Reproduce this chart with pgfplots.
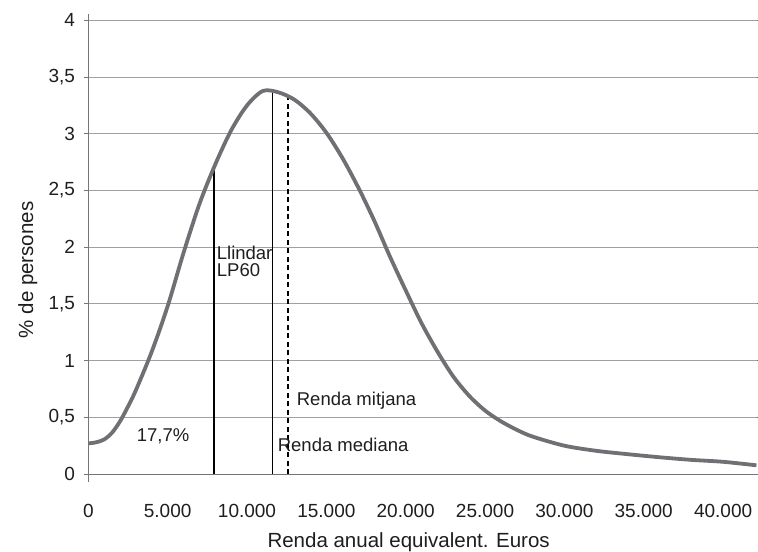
\documentclass[border=0pt]{standalone}
\usepackage{fontspec}
\setmainfont{Liberation Sans}
\usepackage{pgfplots}
\pgfplotsset{compat=1.18}
\definecolor{curvec}{RGB}{112,112,116}
\definecolor{gridc}{RGB}{160,160,160}
\definecolor{axisc}{RGB}{118,118,118}
\definecolor{txt}{RGB}{30,30,30}
\begin{document}
\fontsize{18.5}{22}\selectfont
\begin{tikzpicture}
\begin{axis}[
  scale only axis, width=668.7pt, height=460pt,
  xmin=0, xmax=42136, ymin=0, ymax=4.056,
  scaled x ticks=false, scaled y ticks=false,
  axis line style={draw=none},
  xtick={0,5000,10000,15000,20000,25000,30000,35000,40000},
  xticklabels={0,5.000,10.000,15.000,20.000,25.000,30.000,35.000,40.000},
  ytick={0,0.5,1,1.5,2,2.5,3,3.5,4},
  yticklabels={0,{0,5},1,{1,5},2,{2,5},3,{3,5},4},
  ymajorgrids, grid style={gridc, line width=0.9pt},
  xtick style={draw=none},
  ytick style={axisc, line width=0.9pt},
  tick align=outside, major tick length=4pt,
  tick label style={font=\fontsize{19}{22}\selectfont},
  xticklabel style={yshift=-20pt, text=txt},
  yticklabel style={xshift=-3pt, text=txt},
  clip=false,
]
\draw[axisc, line width=0.9pt] (axis cs:-250,0) -- (axis cs:42136,0);
\draw[axisc, line width=0.9pt] (axis cs:0,-0.07) -- (axis cs:0,4.056);
\addplot[black, line width=2pt] coordinates {(7920,0) (7920,2.70)};
\addplot[black, line width=1.2pt] coordinates {(11620,0) (11620,3.38)};
\addplot[black, line width=2.3pt, dash pattern=on 5pt off 3.5pt] coordinates {(12600,0) (12600,3.33)};
\addplot[curvec, line width=3.8pt, smooth] coordinates {
(0,0.27) (500,0.28) (1000,0.305) (1500,0.365) (2000,0.465) (2500,0.595)
(3000,0.74) (4000,1.08) (5000,1.48)
(6000,1.95) (7000,2.38) (8000,2.73) (9000,3.03) (10000,3.25) (11000,3.378)
(12000,3.365) (13000,3.30) (14000,3.18) (15000,3.01) (16000,2.79)
(17000,2.53) (18000,2.24) (19000,1.92) (20000,1.62) (21000,1.33)
(22000,1.08) (23000,0.86) (24000,0.69) (25000,0.56) (26000,0.465)
(27000,0.39) (28000,0.33) (30000,0.25) (32000,0.205) (34000,0.175)
(36000,0.148) (38000,0.125) (40000,0.108) (42100,0.077)
};
\node[anchor=base west, inner sep=0, text=txt] at (axis cs:8090,1.896) {Llindar};
\node[anchor=base west, inner sep=0, text=txt] at (axis cs:8090,1.74) {LP60};
\node[anchor=base west, inner sep=0, text=txt] at (axis cs:3050,0.291) {17,7\%};
\node[anchor=base west, inner sep=0, text=txt] at (axis cs:13130,0.602) {Renda mitjana};
\node[anchor=base, rotate=90, inner sep=0, text=txt, font=\fontsize{20.5}{24}\selectfont] at (axis cs:-3480,1.80) {\% de persones};
\node[anchor=base west, inner sep=0, text=txt] at (axis cs:11930,0.203) {Renda mediana};
\node[anchor=base west, inner sep=0, text=txt, font=\fontsize{20.5}{24}\selectfont] at (axis cs:11280,-0.646) {Renda anual equivalent. Euros};
\coordinate (bl) at (axis cs:-5564,-0.679);
\coordinate (tr) at (axis cs:42200,4.18);
\end{axis}
\pgfresetboundingbox
\path (bl) rectangle (tr);
\end{tikzpicture}
\end{document}
